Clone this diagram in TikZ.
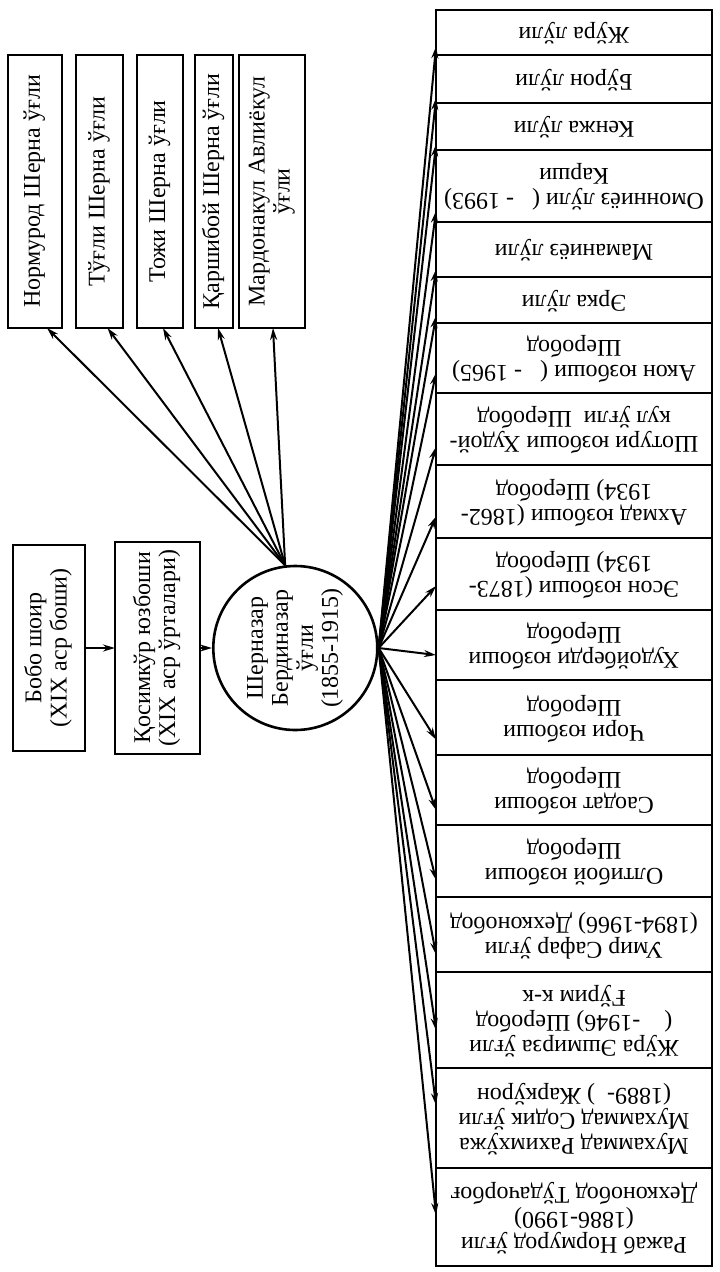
\documentclass[tikz,border=0pt]{standalone}
\usepackage{fontspec}
\setmainfont{Liberation Serif}
\usepackage{graphicx}
\usetikzlibrary{arrows.meta,positioning,calc}

\newcommand{\uptext}[1]{\rotatebox{90}{\begin{tabular}{@{}c@{}}#1\end{tabular}}}
\newcommand{\downtext}[1]{\rotatebox{180}{\begin{tabular}{@{}c@{}}#1\end{tabular}}}

\begin{document}
\begin{tikzpicture}[
    x=1pt, y=1pt,
    font=\fontsize{24}{25}\selectfont,
    person/.style={rectangle, draw, line width=2.6pt, inner sep=0pt, outer sep=0pt},
    son/.style={person, minimum height=273pt, anchor=north},
    child/.style={person, minimum width=276pt},
    head/.style={circle, draw, line width=2.6pt, minimum size=164pt, inner sep=0pt},
    link/.style={-{Stealth[length=12pt,width=7pt]}, line width=2pt}
]
\useasboundingbox (0,0) rectangle (720,-1272);

% Ancestors
\node[person, minimum width=85pt, minimum height=212pt] (kos) at (157.5,-648) {\uptext{Қосимкўр юзбоши\\(XIX аср ўрталари)}};
\node[person, minimum width=72pt, minimum height=206pt, left=30pt of kos] (bobo) {\uptext{Бобо шоир\\(XIX аср боши)}};
\node[head, right=12pt of kos] (sher) {\uptext{Шерназар\\Бердиназар\\ўғли\\(1855-1915)}};

% Sons of Sherna
\node[son, minimum width=54pt] (norm) at (35,-55) {\uptext{Нормурод Шерна ўғли}};
\node[son, minimum width=47pt, right=14pt of norm] (tugli) {\uptext{Тўғли Шерна ўғли}};
\node[son, minimum width=46pt, right=14pt of tugli] (tozhi) {\uptext{Тожи Шерна ўғли}};
\node[son, minimum width=38pt, right=12pt of tozhi] (qarshi) {\uptext{Қаршибой Шерна ўғли}};
\node[son, minimum width=66pt, right=6pt of qarshi] (mardon) {\uptext{Мардонакул Авлиёкул\\ўғли}};

% Children column
\node[child, minimum height=45pt, anchor=north] (jura) at (574,-10) {\downtext{Жўра лўли}};
\node[child, minimum height=48pt, below=0pt of jura] (buron) {\downtext{Бўрон лўли}};
\node[child, minimum height=47pt, below=0pt of buron] (kenja) {\downtext{Кенжа лўли}};
\node[child, minimum height=72pt, below=0pt of kenja] (omon) {\downtext{Омонниёз лўли (~~~- 1993)\\Карши}};
\node[child, minimum height=55pt, below=0pt of omon] (maman) {\downtext{Маманиёз лўли}};
\node[child, minimum height=46pt, below=0pt of maman] (erka) {\downtext{Эрка лўли}};
\node[child, minimum height=70pt, below=0pt of erka] (akon) {\downtext{Акон юзбоши (~~~- 1965)\\Шеробод}};
\node[child, minimum height=72pt, below=0pt of akon] (shotur) {\downtext{Шотури юзбоши Худой-\\кул ўғли~~Шеробод}};
\node[child, minimum height=73pt, below=0pt of shotur] (ahmad) {\downtext{Ахмад юзбоши (1862-\\1934) Шеробод}};
\node[child, minimum height=72pt, below=0pt of ahmad] (eson) {\downtext{Эсон юзбоши (1873-\\1934) Шеробод}};
\node[child, minimum height=70pt, below=0pt of eson] (hudoy) {\downtext{Худойберди юзбоши\\Шеробод}};
\node[child, minimum height=75pt, below=0pt of hudoy] (chori) {\downtext{Чори юзбоши\\Шеробод}};
\node[child, minimum height=70pt, below=0pt of chori] (saodat) {\downtext{Саодат юзбоши\\Шеробод}};
\node[child, minimum height=72pt, below=0pt of saodat] (oltiboy) {\downtext{Олтибой юзбоши\\Шеробод}};
\node[child, minimum height=75pt, below=0pt of oltiboy] (umir) {\downtext{Умир Сафар ўғли\\(1894-1966) Дехконобод}};
\node[child, minimum height=96pt, below=0pt of umir] (jurae) {\downtext{Жўра Эшмирза ўғли\\(~~~~-1946) Шеробод\\Ғўрим к-к}};
\node[child, minimum height=100pt, below=0pt of jurae] (muham) {\downtext{Мухаммад Рахимхўжа\\Мухаммад Содик ўғли\\(1889-~~) Жаркўрон}};
\node[child, minimum height=98pt, below=0pt of muham] (rajab) {\downtext{Ражаб Нормурод ўғли\\(1886-1990)\\Дехконобод Тўдачорбоғ}};

% Lineage
\draw[link] (bobo) -- (kos);
\draw[link] (kos) -- (sher);
\draw[link] (sher.97) -- ([xshift=12pt]norm.south);
\draw[link] (sher.97) -- ([xshift=8pt]tugli.south);
\draw[link] (sher.97) -- ([xshift=3pt]tozhi.south);
\draw[link] (sher.97) -- ([xshift=4pt]qarshi.south);
\draw[link] (sher.97) -- ([xshift=1pt]mardon.south);

\draw[link] (sher.east) -- ([yshift=-14pt]jura.west);
\draw[link] (sher.east) -- ([yshift=-19pt]buron.west);
\draw[link] (sher.east) -- ([yshift=-18pt]kenja.west);
\draw[link] (sher.east) -- ([yshift=-25pt]omon.west);
\draw[link] (sher.east) -- ([yshift=-20pt]maman.west);
\draw[link] (sher.east) -- ([yshift=-16pt]erka.west);
\draw[link] (sher.east) -- ([yshift=-15pt]akon.west);
\draw[link] (sher.east) -- ([yshift=-18pt]shotur.west);
\draw[link] (sher.east) -- ([yshift=-15pt]ahmad.west);
\draw[link] (sher.east) -- ([yshift=-12pt]eson.west);
\draw[link] (sher.east) -- ([yshift=-10pt]hudoy.west);
\draw[link] (sher.east) -- ([yshift=-22pt]chori.west);
\draw[link] (sher.east) -- ([yshift=-20pt]saodat.west);
\draw[link] (sher.east) -- ([yshift=-19pt]oltiboy.west);
\draw[link] (sher.east) -- ([yshift=-20pt]umir.west);
\draw[link] (sher.east) -- ([yshift=-10pt]jurae.west);
\draw[link] (sher.east) -- ([yshift=13pt]muham.west);
\draw[link] (sher.east) -- ([yshift=2pt]rajab.west);

\end{tikzpicture}
\end{document}
